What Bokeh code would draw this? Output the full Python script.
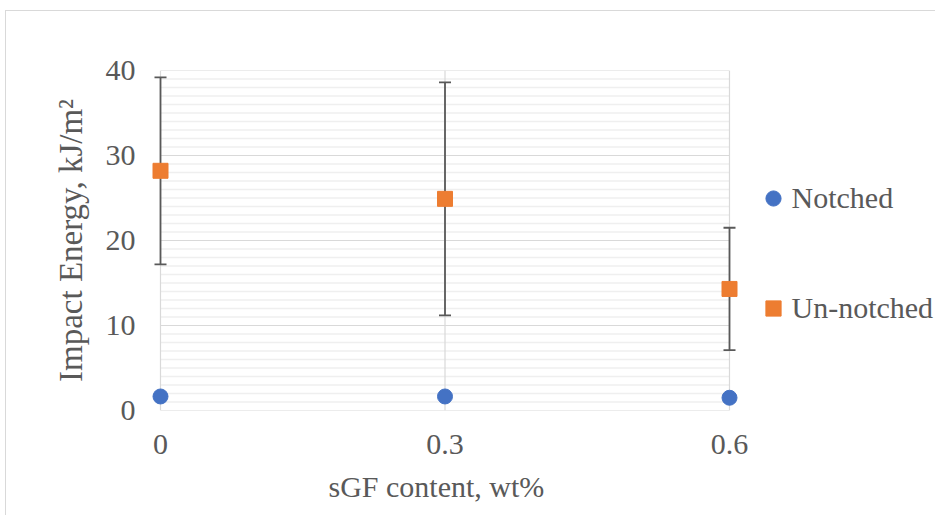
from bokeh.plotting import figure
from bokeh.models import (Range1d, FixedTicker, SingleIntervalTicker, Whisker, TeeHead,
                          ColumnDataSource, Legend, LegendItem, Title)
from bokeh.embed import file_html
from bokeh.resources import INLINE

# ---- data ----
sgf_content = [0, 0.3, 0.6]
x_tick_labels = {0: "0", 0.3: "0.3", 0.6: "0.6"}
notched = [1.65, 1.65, 1.5]
unnotched = [28.2, 24.9, 14.3]
unnotched_err = [11.0, 13.7, 7.2]
y_min, y_max, y_major = 0, 40, 10

FONT = "Liberation Serif"
TXT = "#595959"

# ---- layout (canvas pixels) ----
W, H = 930, 505
frame_l, frame_r = 144, W          # frame is wider than the visible plot box so markers are not clipped
box_l, box_r = 154, 723            # where x = 0 and x = 0.6 land
x_lo, x_hi = sgf_content[0], sgf_content[-1]
ppu = (box_r - box_l) / (x_hi - x_lo)
x_start = x_lo - (box_l - frame_l) / ppu
x_end = x_hi + (frame_r - box_r) / ppu

src_n = ColumnDataSource(dict(x=sgf_content, y=notched))
src_u = ColumnDataSource(dict(
    x=sgf_content, y=unnotched,
    upper=[v + e for v, e in zip(unnotched, unnotched_err)],
    lower=[v - e for v, e in zip(unnotched, unnotched_err)],
))

p = figure(width=W, height=H, output_backend="svg", toolbar_location=None,
           x_range=Range1d(x_start, x_end), y_range=Range1d(y_min, y_max),
           min_border_left=frame_l, min_border_right=0, min_border_top=59, min_border_bottom=106)
p.styles = {"border-left": "1px solid #d9d9d9", "border-top": "1px solid #d9d9d9"}
p.margin = (10, 0, 0, 5)
p.outline_line_color = None
p.background_fill_color = "white"
p.border_fill_color = "white"
p.grid.visible = False

# plot-area grid drawn inside the data box
minor_y = [v for v in range(y_min, y_max + 1) if v % y_major]
major_y = list(range(y_min, y_max + 1, y_major))
p.segment(x0=[x_lo] * len(minor_y), x1=[x_hi] * len(minor_y), y0=minor_y, y1=minor_y,
          line_color="#efefef", line_width=1.5, level="image")
p.segment(x0=[x_lo] * len(major_y), x1=[x_hi] * len(major_y), y0=major_y, y1=major_y,
          line_color="#d9d9d9", line_width=1.2, level="image")
p.segment(x0=sgf_content, x1=sgf_content, y0=[y_min] * 3, y1=[y_max] * 3,
          line_color="#d9d9d9", line_width=1.2, level="image")

# axes
p.xaxis.ticker = FixedTicker(ticks=sgf_content)
p.xaxis.major_label_overrides = x_tick_labels
p.yaxis.ticker = SingleIntervalTicker(interval=y_major)
for ax in (p.xaxis[0], p.yaxis[0]):
    ax.axis_line_color = None
    ax.major_tick_line_color = None
    ax.minor_tick_line_color = None
    ax.major_label_text_font = FONT
    ax.major_label_text_font_size = "30px"
    ax.major_label_text_color = TXT
    ax.axis_label_text_font = FONT
    ax.axis_label_text_color = TXT
    ax.axis_label_text_font_style = "normal"
p.yaxis.axis_label = "Impact Energy, kJ/m²"
p.yaxis.axis_label_text_font_size = "33px"
p.xaxis.major_label_standoff = 18
p.yaxis.major_label_standoff = 9
p.yaxis.axis_label_standoff = 14

# x-axis title, positioned under the visible plot box
x_title = Title(text="sGF content, wt%", align="left", offset=178,
                text_font=FONT, text_font_size="30px", text_color=TXT,
                text_font_style="normal", standoff=22)
p.add_layout(x_title, "below")

# error bars
wh = Whisker(source=src_u, base="x", upper="upper", lower="lower", dimension="height",
             line_color="#595959", line_width=1.8,
             upper_head=TeeHead(size=12, line_color="#595959", line_width=1.8),
             lower_head=TeeHead(size=12, line_color="#595959", line_width=1.8))
p.add_layout(wh)

r_n = p.scatter("x", "y", source=src_n, marker="circle", size=15,
                fill_color="#4472C4", line_color="#4472C4")
r_u = p.scatter("x", "y", source=src_u, marker="square", size=15,
                fill_color="#ED7D31", line_color="#ED7D31")

legend = Legend(items=[LegendItem(label="Notched", renderers=[r_n]),
                       LegendItem(label="Un-notched", renderers=[r_u])],
                location=(603.5, 83.5))
legend.border_line_color = None
legend.background_fill_alpha = 0
legend.padding = 0
legend.margin = 0
legend.spacing = 72
legend.glyph_width = 38
legend.glyph_height = 38
legend.label_height = 30
legend.label_standoff = -5
legend.label_text_font = FONT
legend.label_text_font_size = "30px"
legend.label_text_color = TXT
p.add_layout(legend)

open("out.html", "w").write(file_html(p, INLINE))
